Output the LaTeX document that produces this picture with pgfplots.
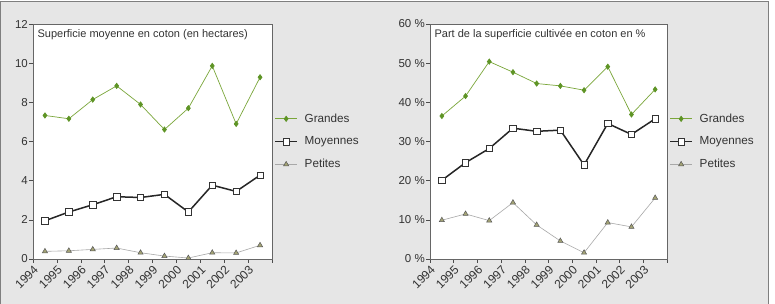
\documentclass[border=0pt]{standalone}
\usepackage{pgfplots}
\pgfplotsset{compat=1.18}
\usepackage{fontspec}
\setmainfont{Liberation Sans}
\definecolor{bgg}{HTML}{E6E6E6}
\definecolor{frm}{HTML}{7F7F7F}
\definecolor{grn}{HTML}{7AA63A}
\definecolor{grnm}{HTML}{5E9425}
\definecolor{pet}{HTML}{A8A8A8}
\definecolor{petm}{HTML}{A3A374}
\definecolor{txt}{HTML}{333333}
\pgfplotstableread{
x g m p
0.5 7.33 1.95 0.39
1.5 7.16 2.40 0.42
2.5 8.14 2.77 0.49
3.5 8.84 3.18 0.56
4.5 7.89 3.14 0.32
5.5 6.61 3.30 0.15
6.5 7.70 2.40 0.05
7.5 9.86 3.77 0.32
8.5 6.90 3.45 0.31
9.5 9.28 4.28 0.70
}\left
\pgfplotstableread{
x g m p
0.5 36.5 20.1 9.9
1.5 41.6 24.6 11.5
2.5 50.4 28.2 9.8
3.5 47.7 33.4 14.4
4.5 44.8 32.6 8.7
5.5 44.2 32.9 4.6
6.5 43.1 24.0 1.6
7.5 49.1 34.6 9.3
8.5 36.9 31.8 8.2
9.5 43.3 35.8 15.6
}\right
\pgfplotsset{
  mystyle/.style={
    scale only axis,
    anchor=south west,
    height=235pt,
    xmin=0, xmax=10,
    xtick={0,1,2,3,4,5,6,7,8,9,10},
    xticklabels={1994,1995,1996,1997,1998,1999,2000,2001,2002,2003,},
    xticklabel style={rotate=45, anchor=north east, inner sep=1pt, font=\fontsize{12}{14}\selectfont, text=txt},
    yticklabel style={font=\fontsize{11.5}{13}\selectfont, text=txt, inner sep=1pt},
    /pgf/number format/assume math mode=true,
    tick align=outside,
    xtick pos=bottom, ytick pos=left,
    major tick length=4pt,
    tick style={color=black!70, line width=0.5pt},
    axis line style={color=black!60, line width=0.6pt},
    axis background/.style={fill=white},
    clip=false,
    legend cell align=left,
    legend image code/.code={\draw[mark repeat=2,mark phase=2] plot coordinates {(0cm,0cm)(0.38cm,0cm)(0.76cm,0cm)};},
    legend style={draw=none, fill=none, anchor=north west, font=\fontsize{11.7}{13}\selectfont, text=txt, row sep=9pt, column sep=5pt, inner sep=0pt,
      nodes={inner sep=2pt}},
  },
  gstyle/.style={color=grn, line width=0.7pt, mark=diamond*, mark size=2.6pt, mark options={fill=grnm, draw=grnm}},
  mstyle/.style={color=black!85, line width=1.5pt, mark=square*, mark size=3.2pt, mark options={fill=white, draw=black!80, line width=0.6pt}},
  pstyle/.style={color=pet, line width=0.6pt, mark=triangle*, mark size=3pt, mark options={fill=petm, draw=black!65, line width=0.5pt}},
}
\begin{document}
\begin{tikzpicture}[x=1pt,y=1pt]
\useasboundingbox (0,0) rectangle (775,304);
\fill[white] (0,0) rectangle (775,304);
\filldraw[fill=bgg, draw=frm, line width=0.8pt] (0.5,-5) rectangle (768.5,302.5);
\begin{axis}[mystyle, at={(33pt,45pt)}, width=239pt,
  ymin=0, ymax=12, ytick={0,2,4,6,8,10,12},
  legend style={at={(axis description cs:1.01,0.627)}}]
\addplot[gstyle] table[x=x,y=g] {\left};
\addlegendentry{Grandes}
\addplot[mstyle] table[x=x,y=m] {\left};
\addlegendentry{Moyennes}
\addplot[pstyle] table[x=x,y=p] {\left};
\addlegendentry{Petites}
\node[anchor=north west, inner sep=2pt, font=\fontsize{11}{13}\selectfont, text=txt] at (rel axis cs:0.01,0.985) {Superficie moyenne en coton (en hectares)};
\end{axis}
\begin{axis}[mystyle, at={(430pt,45pt)}, width=237pt,
  ymin=0, ymax=60, ytick={0,10,20,30,40,50,60},
  yticklabels={0 \%,10 \%,20 \%,30 \%,40 \%,50 \%,60 \%},
  legend style={at={(axis description cs:1.01,0.627)}}]
\addplot[gstyle] table[x=x,y=g] {\right};
\addlegendentry{Grandes}
\addplot[mstyle] table[x=x,y=m] {\right};
\addlegendentry{Moyennes}
\addplot[pstyle] table[x=x,y=p] {\right};
\addlegendentry{Petites}
\node[anchor=north west, inner sep=2pt, font=\fontsize{11}{13}\selectfont, text=txt] at (rel axis cs:0.01,0.985) {Part de la superficie cultivée en coton en \%};
\end{axis}
\end{tikzpicture}
\end{document}
